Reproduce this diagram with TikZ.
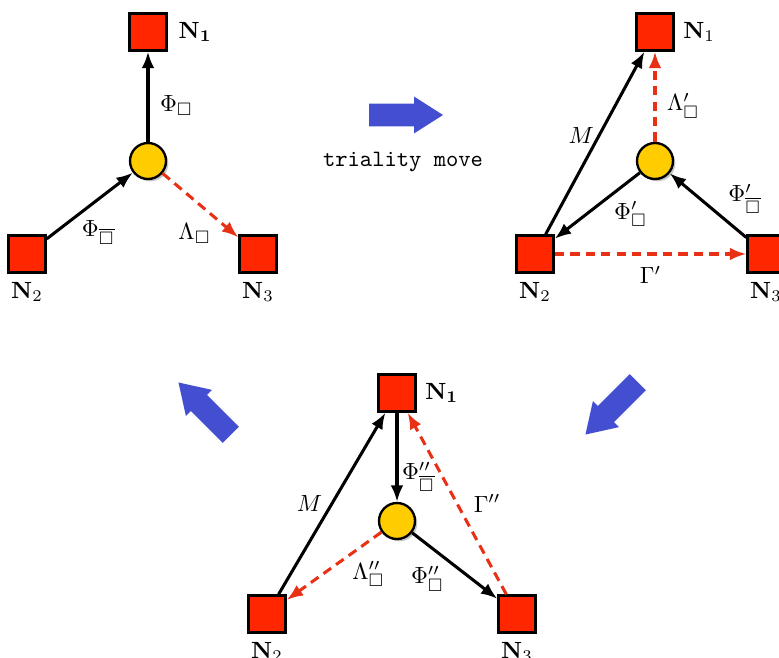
\documentclass[tikz,border=0pt]{standalone}
\usepackage{amssymb}
\usetikzlibrary{arrows.meta, shapes.arrows, shadows}

\definecolor{gaugered}{RGB}{255,38,0}
\definecolor{vertexyellow}{RGB}{255,204,0}
\definecolor{dashred}{RGB}{232,48,20}
\definecolor{moveblue}{RGB}{67,78,208}

\begin{document}
\begin{tikzpicture}[
    x=0.015cm, y=-0.015cm,
    >={Latex[length=7pt,width=5.4pt]},
    gauge/.style={rectangle, draw, line width=1pt, fill=gaugered, minimum size=0.555cm, inner sep=0pt,
        drop shadow={shadow xshift=0.7pt, shadow yshift=-0.7pt, opacity=0.3}},
    vertex/.style={circle, draw, line width=1pt, fill=vertexyellow, minimum size=0.54cm, inner sep=0pt,
        drop shadow={shadow xshift=1pt, shadow yshift=-1pt, opacity=0.45}},
    field/.style={->, line width=1.3pt},
    flavour/.style={->, line width=1.3pt, draw=dashred, dash pattern=on 4pt off 2.6pt},
    lbl/.style={inner sep=1.5pt},
    move/.style={single arrow, fill=moveblue, minimum width=0.54cm, minimum height=1.11cm,
        inner xsep=0pt, inner ysep=0.165cm,
        single arrow head extend=0.105cm, single arrow tip angle=65, single arrow head indent=0pt}
]
\useasboundingbox (0,0) rectangle (779,657);

% Before the move
\node[gauge, label={[lbl, label distance=3pt]right:$\mathbf{N_1}$}] (tl_n1) at (148,32) {};
\node[vertex] (tl_v) at (148,161) {};
\node[gauge, label={[lbl, label distance=2pt]below:$\mathbf{N}_2$}] (tl_n2) at (27,254) {};
\node[gauge, label={[lbl, label distance=2pt]below:$\mathbf{N}_3$}] (tl_n3) at (258,254) {};

\draw[field] (tl_v) -- node[lbl, pos=0.4, right=3pt] {$\Phi_{\Box}$} (tl_n1);
\draw[field] (tl_n2) -- node[lbl, pos=0.35, below right] {$\Phi_{\overline{\Box}}$} (tl_v);
\draw[flavour] (tl_v) -- node[lbl, pos=0.7, below left] {$\Lambda_{\Box}$} (tl_n3);

% Triality move
\node[move] (move_r) at (397,115) {};
\node[font=\ttfamily] (move_txt) at (403,162) {triality move};

% After the move
\node[gauge, label={[lbl, label distance=2pt]right:$\mathbf{N}_1$}] (tr_n1) at (655,32) {};
\node[vertex] (tr_v) at (655,161) {};
\node[gauge, label={[lbl, label distance=2pt]below:$\mathbf{N}_2$}] (tr_n2) at (535,254) {};
\node[gauge, label={[lbl, label distance=2pt]below:$\mathbf{N}_3$}] (tr_n3) at (766,254) {};

\draw[field] (tr_n2) -- node[lbl, pos=0.54, left] {$M$} (tr_n1);
\draw[flavour] (tr_v) -- node[lbl, pos=0.4, right=3pt] {$\Lambda'_{\Box}$} (tr_n1);
\draw[field] (tr_v) -- node[lbl, pos=0.36, below right] {$\Phi'_{\Box}$} (tr_n2);
\draw[field] (tr_n3) -- node[lbl, pos=0.3, above right] {$\Phi'_{\overline{\Box}}$} (tr_v);
\draw[flavour] (tr_n2) -- node[lbl, below=3pt] {$\Gamma'$} (tr_n3);

% Second move
\node[move, rotate=-135] (move_dl) at (618,402) {};
\node[gauge, label={[lbl, label distance=2pt]right:$\mathbf{N_1}$}] (bt_n1) at (397,393) {};
\node[vertex] (bt_v) at (397,521) {};
\node[gauge, label={[lbl, label distance=2pt]below:$\mathbf{N}_2$}] (bt_n2) at (267,614) {};
\node[gauge, label={[lbl, label distance=2pt]below:$\mathbf{N}_3$}] (bt_n3) at (517,614) {};

\draw[field] (bt_n2) -- node[lbl, pos=0.5, left=2pt] {$M$} (bt_n1);
\draw[field] (bt_n1) -- node[lbl, pos=0.72, right] {$\Phi''_{\overline{\Box}}$} (bt_v);
\draw[flavour] (bt_n3) -- node[lbl, pos=0.5, right=5pt] {$\Gamma''$} (bt_n1);
\draw[flavour] (bt_v) -- node[lbl, pos=0.36, below right] {$\Lambda''_{\Box}$} (bt_n2);
\draw[field] (bt_v) -- node[lbl, pos=0.43, below left] {$\Phi''_{\Box}$} (bt_n3);

% Back to the start
\node[move, rotate=135] (move_ul) at (211,415) {};

\end{tikzpicture}
\end{document}
